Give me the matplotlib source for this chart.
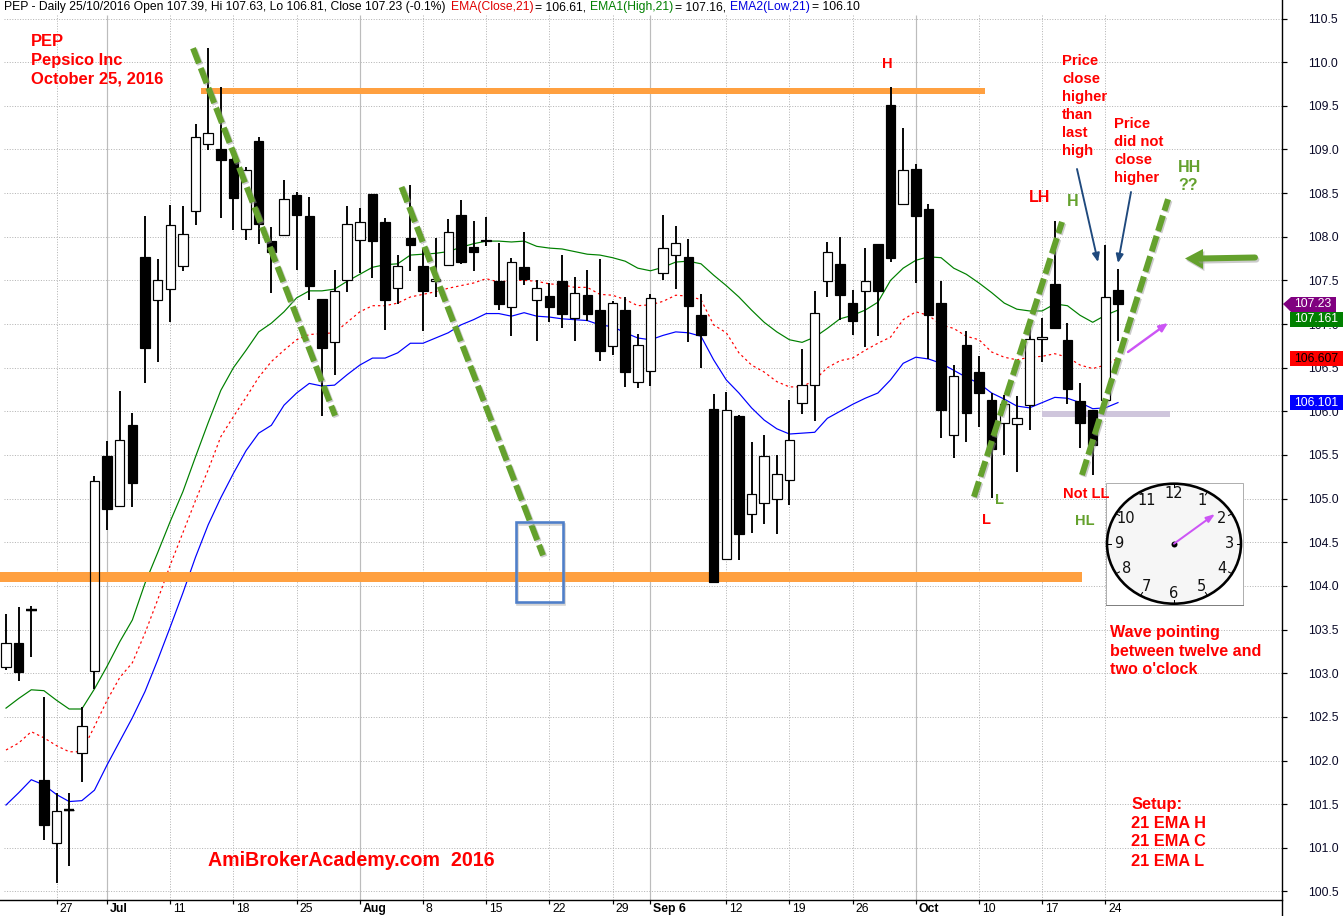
import matplotlib
matplotlib.use("Agg")
from matplotlib import pyplot as plt
from matplotlib.patches import Rectangle, Ellipse, Polygon
from matplotlib.transforms import ScaledTranslation
import matplotlib.patheffects as pe
import numpy as np

plt.rcParams['font.family'] = ['Liberation Sans', 'DejaVu Sans']

# daily bars, PEP from late June to 25 Oct 2016
opens = [103.07,103.35,103.72,101.78,101.05,101.43,102.09,103.02,105.49,104.92,
         105.84,107.77,107.28,107.40,107.66,108.30,109.06,109.01,108.89,108.09,
         109.10,107.95,108.02,108.48,108.24,107.29,106.79,107.50,107.96,108.49,
         108.17,107.41,107.99,107.66,107.49,107.68,108.25,107.88,107.96,107.49,
         107.19,107.65,107.28,107.32,107.49,107.07,107.33,107.16,106.75,107.16,
         106.34,106.46,107.58,107.79,107.77,107.10,106.03,104.31,105.95,104.82,
         104.95,105.00,105.21,106.10,106.30,107.49,107.69,107.24,107.38,107.92,
         109.51,108.37,108.78,108.32,107.24,105.73,106.76,106.45,106.13,105.87,
         105.85,106.07,106.83,107.46,106.82,106.12,106.02,106.13,107.39]
closes = [103.35,103.01,103.72,101.26,101.42,101.43,102.39,105.20,104.88,105.67,
          105.18,106.73,107.51,108.14,108.03,109.14,109.19,108.88,108.44,108.76,
          108.15,107.82,108.43,108.25,107.44,106.72,107.38,108.15,108.17,107.95,
          107.28,107.66,107.90,107.38,107.52,108.05,107.71,107.83,107.95,107.23,
          107.71,107.52,107.41,107.20,107.12,107.35,107.12,106.69,107.24,106.45,
          106.76,107.30,107.87,107.93,107.21,106.88,104.05,106.02,104.59,105.05,
          105.49,105.28,105.67,106.30,107.13,107.82,107.33,107.03,107.49,107.38,
          107.76,108.77,108.24,107.10,106.01,106.40,105.98,106.21,105.57,106.08,
          105.92,106.83,106.85,106.95,106.26,105.87,105.62,107.31,107.23]
highs = [103.68,103.76,103.77,102.73,101.63,101.63,102.61,105.26,105.66,106.23,
         105.98,108.24,107.75,108.36,108.35,109.29,110.16,109.71,108.93,108.80,
         109.14,108.11,108.65,108.51,108.46,107.29,107.62,108.35,108.33,108.49,
         108.21,107.79,108.59,107.86,107.99,108.20,108.42,108.18,108.23,107.93,
         107.76,108.05,107.50,107.47,107.79,107.54,107.62,107.75,107.26,107.31,
         106.89,107.34,108.25,108.12,107.97,107.34,106.20,106.22,105.96,105.65,
         105.73,105.50,106.13,106.71,107.38,107.94,108.00,107.39,107.87,107.92,
         109.72,109.25,108.83,108.38,107.49,106.53,106.92,106.63,106.21,106.19,
         106.18,106.97,107.07,108.18,107.01,106.32,106.02,107.91,107.63]
lows = [103.04,102.91,103.19,101.09,100.60,100.79,101.75,102.82,104.64,104.90,
        104.90,106.33,106.57,107.02,107.61,108.13,108.99,108.21,108.08,107.96,
        107.92,107.36,108.02,107.62,107.28,105.95,106.42,107.37,107.58,107.53,
        106.93,107.23,107.61,106.92,107.31,107.68,107.69,107.61,107.89,107.16,
        106.86,107.45,106.80,107.02,106.95,106.80,107.04,106.58,106.65,106.28,
        106.27,106.29,107.50,107.40,106.79,106.50,104.05,104.31,104.30,104.61,
        104.71,104.59,104.93,105.97,105.89,107.31,107.05,106.87,106.74,106.86,
        107.71,108.37,107.47,106.60,105.70,105.47,105.65,105.82,105.01,105.50,
        105.30,105.79,106.57,106.95,106.08,105.58,105.27,106.13,106.81]

ema_high = [102.60,102.71,102.81,102.80,102.69,102.59,102.59,102.82,103.08,103.36,
            103.61,104.03,104.38,104.74,105.08,105.48,105.87,106.24,106.50,106.70,
            106.91,107.01,107.14,107.30,107.38,107.38,107.40,107.49,107.57,107.65,
            107.68,107.69,107.79,107.80,107.81,107.83,107.88,107.92,107.95,107.95,
            107.94,107.95,107.89,107.87,107.86,107.83,107.80,107.79,107.76,107.72,
            107.64,107.61,107.65,107.71,107.72,107.69,107.56,107.44,107.31,107.16,
            107.02,106.91,106.82,106.79,106.85,106.95,107.06,107.10,107.16,107.25,
            107.50,107.64,107.73,107.77,107.76,107.64,107.57,107.47,107.36,107.24,
            107.17,107.15,107.15,107.23,107.21,107.10,107.02,107.10,107.16]
ema_close = [102.12,102.20,102.33,102.26,102.17,102.10,102.10,102.39,102.69,102.95,
             103.12,103.46,103.84,104.24,104.61,104.98,105.33,105.71,105.94,106.16,
             106.39,106.57,106.70,106.82,106.88,106.89,106.90,107.02,107.14,107.21,
             107.21,107.24,107.31,107.34,107.37,107.41,107.44,107.47,107.52,107.48,
             107.50,107.50,107.49,107.46,107.45,107.42,107.42,107.34,107.33,107.28,
             107.21,107.22,107.26,107.33,107.32,107.28,106.99,106.90,106.67,106.53,
             106.45,106.34,106.28,106.28,106.36,106.50,106.58,106.61,106.70,106.78,
             106.85,107.05,107.14,107.10,106.99,106.95,106.86,106.82,106.68,106.62,
             106.59,106.62,106.63,106.66,106.62,106.53,106.49,106.53,106.61]
ema_low = [101.49,101.63,101.78,101.72,101.61,101.53,101.54,101.66,101.95,102.22,
           102.49,102.79,103.15,103.53,103.92,104.33,104.70,105.01,105.29,105.55,
           105.75,105.84,106.07,106.21,106.32,106.29,106.30,106.42,106.53,106.61,
           106.61,106.67,106.78,106.78,106.84,106.90,106.99,107.05,107.12,107.12,
           107.09,107.13,107.09,107.08,107.06,107.05,107.04,106.99,106.97,106.90,
           106.84,106.82,106.87,106.91,106.90,106.86,106.59,106.36,106.21,106.04,
           105.90,105.80,105.74,105.75,105.76,105.92,106.00,106.08,106.15,106.21,
           106.36,106.55,106.62,106.60,106.55,106.47,106.39,106.32,106.21,106.14,
           106.06,106.04,106.10,106.16,106.15,106.10,106.03,106.04,106.10]

# date axis: bar number of each labelled day
tick_bars = [4, 8, 13, 18, 23, 28, 33, 38, 43, 48, 51, 57, 62, 67, 72, 77, 82, 87]
tick_labels = ["27", "Jul", "11", "18", "25", "Aug", "8", "15", "22", "29", "Sep 6",
               "12", "19", "26", "Oct", "10", "17", "24"]
month_bars = [8, 28, 51, 72]
price_ticks = [100.5, 101.0, 101.5, 102.0, 102.5, 103.0, 103.5, 104.0, 104.5, 105.0, 105.5,
               106.0, 106.5, 107.0, 107.5, 108.0, 108.5, 109.0, 109.5, 110.0, 110.5]

# hand drawn levels and trend lines, (start bar, end bar, price) and (bar, price, bar, price)
levels = [(15.43, 77.48, 109.67, "#ffa040", 6), (-0.5, 85.15, 104.10, "#ffa040", 10),
          (82.0, 92.1, 105.97, "#cfc6dc", 6)]
trends = [(14.8, 110.16, 26.04, 105.95), (31.3, 108.57, 42.5, 104.35),
          (76.6, 105.02, 83.57, 108.17), (85.15, 105.27, 91.96, 108.43)]

W, H = 1343, 916
px = 1 / 100 * 72   # one pixel in points

fig = plt.figure(figsize=(W / 100, H / 100), dpi=100)
ax = fig.add_axes([0, (H - 900) / H, 1282 / W, 900 / H])
bars = np.arange(len(opens))
o, c, hi, lo = map(np.array, (opens, closes, highs, lows))
top = np.maximum(o, c)
bot = np.minimum(o, c)
up = c >= o

ax.set_xlim(-0.475, 100.98)
ax.set_ylim(100.402, 110.712)

# grid
ax.hlines(price_ticks, -0.16, 100.98, color="#b4b4b4", lw=1 * px, linestyles=(0, (1, 1.6)), zorder=1)
week_bars = [b for b in tick_bars if b not in month_bars]
ax.vlines(week_bars, 100.402, 110.54, color="#b4b4b4", lw=1 * px, linestyles=(0, (1, 1.6)), zorder=1)
ax.vlines(month_bars, 100.402, 110.54, color="#bcbcbc", lw=1.2 * px, zorder=1)

# EMAs
ax.plot(bars, ema_high, color="#008000", lw=1.2 * px, zorder=2)
ax.plot(bars, ema_close, color="#ff0000", lw=1.2 * px, linestyle=(0, (2, 2.5)), zorder=2)
ax.plot(bars, ema_low, color="#0000ff", lw=1.2 * px, zorder=2)

# candles: white fill goes under the levels, outlines and black bodies over them
bw = 0.75
ax.bar(bars[up], (top - bot)[up], bw, bottom=bot[up], color="white", linewidth=0, zorder=3)
for x0, x1, y, col, thick in levels:
    ax.plot([x0, x1], [y, y], color=col, lw=thick * px, solid_capstyle="butt", zorder=4)
ax.vlines(bars, top, hi, color="black", lw=1.9 * px, zorder=5)
ax.vlines(bars, lo, bot, color="black", lw=1.9 * px, zorder=5)
ax.bar(bars[up], (top - bot)[up], bw, bottom=bot[up], facecolor="none", edgecolor="black",
       linewidth=1.2 * px, zorder=5)
ax.bar(bars[~up], (top - bot)[~up], bw, bottom=bot[~up], color="black", edgecolor="black",
       linewidth=1.2 * px, zorder=5)
dojis = bars[o == c]
ax.hlines(o[dojis], dojis - 0.42, dojis + 0.42, color="black", lw=2.4 * px, zorder=5)

# trend lines
for x0, y0, x1, y1 in trends:
    ax.plot([x0, x1], [y0, y1], color="#64a12d", lw=6 * px, linestyle=(0, (2.7, 0.85)),
            clip_on=False, zorder=7,
            path_effects=[pe.SimpleLineShadow(offset=(1, -1), shadow_color="#999999", alpha=0.5), pe.Normal()])

# axes
for s in ("top", "left", "right"):
    ax.spines[s].set_visible(False)
ax.spines["bottom"].set_linewidth(1.4 * px)
ax.patch.set_alpha(0)
ax.yaxis.tick_right()
ax.set_yticks(price_ticks, [f"{v:.1f}" for v in price_ticks])
ax.tick_params(axis="y", length=5 * px, width=1.2 * px, pad=21 * px, labelsize=8.8, labelcolor="#0a0a28")
ax.set_xticks(tick_bars, tick_labels)
ax.tick_params(axis="x", length=4 * px, width=1.2 * px, pad=-1 * px, labelsize=8.8)
shift = ScaledTranslation(3 / 100, 0, fig.dpi_scale_trans)
for lab, name in zip(ax.get_xticklabels(), tick_labels):
    lab.set_ha("left")
    lab.set_transform(lab.get_transform() + shift)
    if not name.isdigit():
        lab.set_fontweight("bold")

# overlay in image pixels for the notes on top of the chart
ov = fig.add_axes([0, 0, 1, 1], facecolor="none", zorder=10)
ov.set_xlim(0, W)
ov.set_ylim(H, 0)
ov.axis("off")

# price axis line runs the whole height of the picture
ov.plot([1282, 1282], [0, H], color="black", lw=1.4 * px)

RED = "#ff0000"
GREEN = "#64a12d"


def note(x, y, s, col=RED, size=11, weight="bold"):
    ov.text(x, y, s, color=col, fontsize=size, fontweight=weight, va="center", ha="left")


def stacked(x, y0, lines, step, col=RED, size=11, weight="bold"):
    for n, s in enumerate(lines):
        note(x, y0 + n * step, s, col, size, weight)


# header line
hdr = [(4, "PEP - Daily 25/10/2016 Open 107.39, Hi 107.63, Lo 106.81, Close 107.23 (-0.1%)", "black"),
       (451, "EMA(Close,21)", "#e00000"), (535, "= 106.61,", "black"),
       (590, "EMA1(High,21)", "#008000"), (675, "= 107.16,", "black"),
       (730, "EMA2(Low,21)", "#0000e0"), (812, "= 106.10", "black")]
for x, s, col in hdr:
    ov.text(x, 7, s, color=col, fontsize=8.7, va="center", ha="left")

stacked(31, 41, ["PEP", "Pepsico Inc", "October 25, 2016"], 19, size=11.9)
note(208, 860, "AmiBrokerAcademy.com  2016", size=14.15)
note(882, 64, "H", size=10.5)
stacked(1062, 61, ["Price", "close", "higher", "than", "last", "high"], 18, size=10.7)
stacked(1114, 124, ["Price", "did not", "close", "higher"], 18, size=10.7)
note(1029, 198, "LH", size=11.5)
note(1067, 201, "H", GREEN, size=11.5)
stacked(1178, 167, ["HH", "??"], 19, GREEN, size=11.5)
note(982, 520, "L", size=10.5)
note(995, 500, "L", GREEN, size=10.5)
note(1063, 494, "Not LL", size=10.5)
note(1075, 521, "HL", GREEN, size=10.5)
stacked(1110, 632, ["Wave pointing", "between twelve and", "two o'clock"], 19, size=11.6)
stacked(1131, 804, ["Setup:", "21 EMA H", "21 EMA C", "21 EMA L"], 19, size=11.8)
ov.texts[-4].set_x(1132)

# blue box with shadow
ov.add_patch(Rectangle((515.5, 522), 47.5, 80, fill=False, ec="#4f7fc9", lw=2.6 * px, zorder=1,
                       path_effects=[pe.SimpleLineShadow(offset=(1, -1.5), shadow_color="#aaaaaa", alpha=0.5), pe.Normal()]))


def arrow(x0, y0, x1, y1, col, lw, head=8, wide=4):
    ov.annotate("", xy=(x1, y1), xytext=(x0, y0),
                arrowprops=dict(arrowstyle=f"-|>,head_length={head * px},head_width={wide * px}",
                                mutation_scale=1, color=col, lw=lw, shrinkA=0, shrinkB=0))


arrow(1077, 169, 1098, 262, "#1f497d", 1.9 * px, 7, 3)
arrow(1131, 192, 1118, 263, "#1f497d", 1.9 * px, 7, 3)
arrow(1128, 352, 1168, 323, "#cc55f5", 2.4 * px, 7, 3)

# big green arrow, round tail
shadow = [pe.SimpleLineShadow(offset=(1, -1.5), shadow_color="#999999", alpha=0.5), pe.Normal()]
ov.plot([1200, 1255], [258.5, 257.5], color=GREEN, lw=6 * px, solid_capstyle="round", path_effects=shadow)
ov.add_patch(Polygon([(1185, 258.5), (1203, 249), (1203, 269)], fc=GREEN, ec="none",
                     path_effects=[pe.SimplePatchShadow(offset=(1, -1.5), shadow_rgbFace="#999999", alpha=0.5), pe.Normal()]))

# price tags
tags = [(1291, 304, "107.23", "#800080", "white"), (1290, 319.5, "107.161", "#008000", "white"),
        (1290, 358.5, "106.607", "#ff0000", "black"), (1290, 402.5, "106.101", "#0000ff", "white")]
ov.add_patch(Polygon([(1283, 304), (1291, 297), (1336, 297), (1336, 312), (1291, 312)],
                     fc="#800080", ec="none"))
for x, y, s, bg, fg in tags:
    if bg != "#800080":
        ov.add_patch(Rectangle((x, y - 7.5), 53, 15, fc=bg, ec="none"))
    ov.text(x + 26 if bg != "#800080" else 1313, y, s, color=fg, fontsize=8.8, ha="center", va="center")

# clock picture
cx, cy, rx, ry = 1174, 543.7, 67, 60
ov.add_patch(Rectangle((1105.7, 482.7), 137, 122.3, fc="white", ec="#b0b0b0", lw=1 * px))
ov.plot([1105.7, 1242.7], [605, 605], color="#808080", lw=1 * px)
ov.add_patch(Ellipse((cx, cy), 2 * rx, 2 * ry, fc="#f6f6f6", ec="black", lw=2.6 * px))
for h in range(1, 13):
    a = np.radians(90 - h * 30)
    ov.text(cx + 0.825 * rx * np.cos(a), cy - 0.83 * ry * np.sin(a), str(h), fontsize=10.5,
            family="DejaVu Sans", ha="center", va="center", color="#111111")
    ov.plot([cx + 0.94 * rx * np.cos(a), cx + rx * np.cos(a)],
            [cy - 0.94 * ry * np.sin(a), cy - ry * np.sin(a)], color="black", lw=1 * px)
arrow(cx, cy, 1215, 514, "#cc55f5", 2 * px, 7, 2.5)
ov.plot([cx], [cy], "o", color="black", ms=6 * px, mew=0)

fig.savefig("out.png", dpi=100)
